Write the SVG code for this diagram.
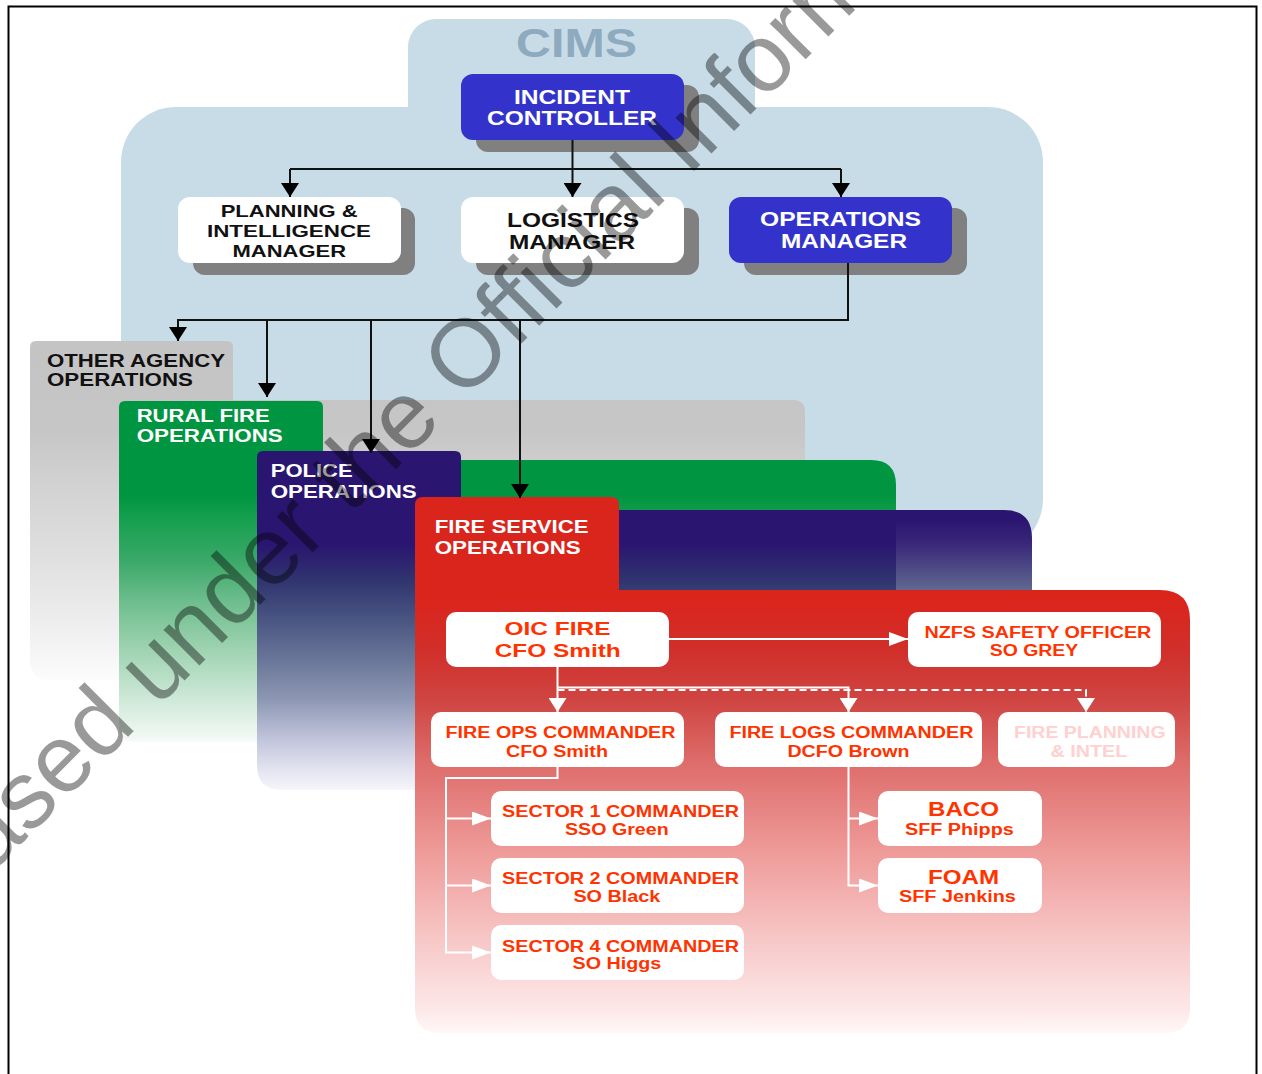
<svg xmlns="http://www.w3.org/2000/svg" width="1262" height="1074" viewBox="0 0 1262 1074">
  <defs>
    <style>
      .t { font-family: "Liberation Sans", Arial, sans-serif; font-weight: bold; }
      .wht { fill: #ffffff; }
      .blk { fill: #111111; }
      .red { fill: #ff3300; }
      .pale { fill: #ffd0d0; }
      .shadow { fill: #808080; }
      .wbox { fill: #ffffff; }
      .bbox { fill: #3333cc; }
      .cims { fill: #c8dce8; }
      .conn { stroke: #111111; stroke-width: 2; fill: none; }
      .wconn { stroke: #ffffff; stroke-width: 2; fill: none; }
      .dash { stroke-dasharray: 7 4; }
      .wm { font-family: "Liberation Sans", Arial, sans-serif; font-size: 96px; fill: #000000; fill-opacity: 0.4; }
    </style>
    <marker id="arrow" viewBox="0 0 14 18" refX="14" refY="9" markerWidth="14" markerHeight="18" markerUnits="userSpaceOnUse" orient="auto">
      <path d="M0,0 L14,9 L0,18 Z" fill="#000000"/>
    </marker>
    <marker id="warrow-v" viewBox="0 0 14 18" refX="14" refY="9" markerWidth="14" markerHeight="18" markerUnits="userSpaceOnUse" orient="auto">
      <path d="M0,0 L14,9 L0,18 Z" fill="#ffffff"/>
    </marker>
    <marker id="warrow-h" viewBox="0 0 19 14" refX="19" refY="7" markerWidth="19" markerHeight="14" markerUnits="userSpaceOnUse" orient="auto">
      <path d="M0,0 L19,7 L0,14 Z" fill="#ffffff"/>
    </marker>
    <linearGradient id="g-gray" gradientUnits="userSpaceOnUse" x1="0" y1="341" x2="0" y2="680">
      <stop offset="0" stop-color="#c4c4c4"/>
      <stop offset="0.263" stop-color="#c6c6c6"/>
      <stop offset="0.469" stop-color="#d5d5d5"/>
      <stop offset="0.646" stop-color="#e0e0e0"/>
      <stop offset="0.823" stop-color="#ededed"/>
      <stop offset="1" stop-color="#fcfcfc"/>
    </linearGradient>
    <linearGradient id="g-green" gradientUnits="userSpaceOnUse" x1="0" y1="401" x2="0" y2="742">
      <stop offset="0" stop-color="#009540"/>
      <stop offset="0.276" stop-color="#009540"/>
      <stop offset="0.35" stop-color="#17a050"/>
      <stop offset="0.466" stop-color="#3aa868"/>
      <stop offset="0.584" stop-color="#6cbd8c"/>
      <stop offset="0.73" stop-color="#9fd3b1"/>
      <stop offset="0.877" stop-color="#cfe9d9"/>
      <stop offset="1" stop-color="#f6fbf7"/>
    </linearGradient>
    <linearGradient id="g-purple" gradientUnits="userSpaceOnUse" x1="0" y1="451" x2="0" y2="790">
      <stop offset="0" stop-color="#2a1670"/>
      <stop offset="0.277" stop-color="#2a1670"/>
      <stop offset="0.381" stop-color="#30346f"/>
      <stop offset="0.499" stop-color="#4a5682"/>
      <stop offset="0.617" stop-color="#6a7698"/>
      <stop offset="0.735" stop-color="#8e98b4"/>
      <stop offset="0.853" stop-color="#c2c6dc"/>
      <stop offset="0.941" stop-color="#e4e4f0"/>
      <stop offset="1" stop-color="#f6f5fb"/>
    </linearGradient>
    <linearGradient id="g-sheen" x1="0" y1="0" x2="0" y2="1">
      <stop offset="0" stop-color="#ffffff" stop-opacity="0"/>
      <stop offset="1" stop-color="#ffffff" stop-opacity="0.22"/>
    </linearGradient>
    <linearGradient id="g-red" gradientUnits="userSpaceOnUse" x1="0" y1="497" x2="0" y2="1033">
      <stop offset="0" stop-color="#da251d"/>
      <stop offset="0.192" stop-color="#da251d"/>
      <stop offset="0.286" stop-color="#d12f2a"/>
      <stop offset="0.379" stop-color="#cf4542"/>
      <stop offset="0.49" stop-color="#dd6b69"/>
      <stop offset="0.659" stop-color="#ee9a98"/>
      <stop offset="0.845" stop-color="#f8cccc"/>
      <stop offset="0.957" stop-color="#fde8e8"/>
      <stop offset="1" stop-color="#fff7f7"/>
    </linearGradient>
  </defs>

  <rect x="0" y="0" width="1262" height="1074" fill="#ffffff"/>

  <!-- CIMS backdrop -->
  <g id="cims-panel">
    <rect class="cims" x="408" y="19" width="347" height="140" rx="28"/>
    <rect class="cims" x="121" y="107" width="922" height="447" rx="55"/>
    <text class="t" x="516" y="57" font-size="40" fill="#8eaabf" textLength="121" lengthAdjust="spacingAndGlyphs">CIMS</text>
  </g>

  <!-- agency folders, back to front -->
  <g id="other-agency-operations">
    <path d="M30,347 Q30,341 36,341 H227 Q233,341 233,347 V400 H793 Q805,400 805,412 V680 H50 Q30,680 30,660 Z" fill="url(#g-gray)"/>
    <text class="t blk" x="47" y="366.5" font-size="18" textLength="178" lengthAdjust="spacingAndGlyphs">OTHER AGENCY</text>
    <text class="t blk" x="47" y="386" font-size="18" textLength="146" lengthAdjust="spacingAndGlyphs">OPERATIONS</text>
  </g>
  <g id="rural-fire-operations">
    <path d="M119,407 Q119,401 125,401 H317 Q323,401 323,407 V460 H871 Q896,460 896,485 V742 H134 Q119,742 119,727 Z" fill="url(#g-green)"/>
    <text class="t wht" x="136.7" y="422.3" font-size="18" textLength="133" lengthAdjust="spacingAndGlyphs">RURAL FIRE</text>
    <text class="t wht" x="136.7" y="441.7" font-size="18" textLength="146" lengthAdjust="spacingAndGlyphs">OPERATIONS</text>
  </g>
  <g id="police-operations">
    <path d="M257,457 Q257,451 263,451 H455 Q461,451 461,457 V510 H1004 Q1032,510 1032,538 V790 H282 Q257,790 257,765 Z" fill="url(#g-purple)"/>
    <rect x="896" y="520" width="136" height="70" fill="url(#g-sheen)"/>
    <text class="t wht" x="270.7" y="477.3" font-size="18" textLength="82" lengthAdjust="spacingAndGlyphs">POLICE</text>
    <text class="t wht" x="270.7" y="497.7" font-size="18" textLength="146" lengthAdjust="spacingAndGlyphs">OPERATIONS</text>
  </g>
  <g id="fire-service-operations">
    <path d="M415,505 Q415,497 423,497 H611 Q619,497 619,505 V590 H1160 Q1190,590 1190,620 V1008 Q1190,1033 1165,1033 H440 Q415,1033 415,1008 Z" fill="url(#g-red)"/>
    <text class="t wht" x="434.7" y="533.3" font-size="18" textLength="154" lengthAdjust="spacingAndGlyphs">FIRE SERVICE</text>
    <text class="t wht" x="434.7" y="554" font-size="18" textLength="146" lengthAdjust="spacingAndGlyphs">OPERATIONS</text>
  </g>

  <!-- CIMS function boxes -->
  <g id="incident-controller">
    <rect class="shadow" x="476" y="85" width="223" height="67" rx="12"/>
    <rect class="bbox" x="461" y="74" width="223" height="66" rx="12"/>
    <text class="t wht" x="514" y="103.5" font-size="19.5" textLength="116" lengthAdjust="spacingAndGlyphs">INCIDENT</text>
    <text class="t wht" x="487" y="125" font-size="19.5" textLength="170" lengthAdjust="spacingAndGlyphs">CONTROLLER</text>
  </g>
  <g id="planning-intelligence-manager">
    <rect class="shadow" x="193" y="208" width="222" height="67" rx="12"/>
    <rect class="wbox" x="178" y="197" width="223" height="66" rx="12"/>
    <text class="t blk" x="220.7" y="217" font-size="16.5" textLength="137" lengthAdjust="spacingAndGlyphs">PLANNING &amp;</text>
    <text class="t blk" x="207" y="237" font-size="16.5" textLength="164" lengthAdjust="spacingAndGlyphs">INTELLIGENCE</text>
    <text class="t blk" x="232.5" y="257" font-size="16.5" textLength="113.5" lengthAdjust="spacingAndGlyphs">MANAGER</text>
  </g>
  <g id="logistics-manager">
    <rect class="shadow" x="476" y="208" width="223" height="67" rx="12"/>
    <rect class="wbox" x="461" y="197" width="223" height="66" rx="12"/>
    <text class="t blk" x="507" y="226.5" font-size="19.5" textLength="132" lengthAdjust="spacingAndGlyphs">LOGISTICS</text>
    <text class="t blk" x="509" y="249" font-size="19.5" textLength="126" lengthAdjust="spacingAndGlyphs">MANAGER</text>
  </g>
  <g id="operations-manager">
    <rect class="shadow" x="744" y="208" width="223" height="67" rx="12"/>
    <rect class="bbox" x="729" y="197" width="223" height="66" rx="12"/>
    <text class="t wht" x="760" y="226" font-size="19.5" textLength="161" lengthAdjust="spacingAndGlyphs">OPERATIONS</text>
    <text class="t wht" x="781" y="248" font-size="19.5" textLength="126" lengthAdjust="spacingAndGlyphs">MANAGER</text>
  </g>

  <!-- connectors -->
  <g id="connectors">
    <path class="conn" d="M572.5,140 V197" marker-end="url(#arrow)"/>
    <path class="conn" d="M290,169 H841"/>
    <path class="conn" d="M290,169 V197" marker-end="url(#arrow)"/>
    <path class="conn" d="M841,169 V197" marker-end="url(#arrow)"/>
    <path class="conn" d="M848,263 V320 H178 V341" marker-end="url(#arrow)"/>
    <path class="conn" d="M267,320 V397" marker-end="url(#arrow)"/>
    <path class="conn" d="M371,320 V453" marker-end="url(#arrow)"/>
    <path class="conn" d="M520,320 V498" marker-end="url(#arrow)"/>

    <path class="wconn" d="M669,639 H908" marker-end="url(#warrow-h)"/>
    <path class="wconn" d="M557.5,667 V712" marker-end="url(#warrow-v)"/>
    <path class="wconn" d="M557.5,687.5 H848.5 V712" marker-end="url(#warrow-v)"/>
    <path class="wconn dash" d="M557.5,690 H1086 V712" marker-end="url(#warrow-v)"/>
    <path class="wconn" d="M557.5,767 V778 H446 V952.5 H491" marker-end="url(#warrow-h)"/>
    <path class="wconn" d="M446,818.5 H491" marker-end="url(#warrow-h)"/>
    <path class="wconn" d="M446,885.5 H491" marker-end="url(#warrow-h)"/>
    <path class="wconn" d="M848.5,767 V885.5 H878" marker-end="url(#warrow-h)"/>
    <path class="wconn" d="M848.5,818.5 H878" marker-end="url(#warrow-h)"/>
  </g>

  <!-- fire service structure -->
  <g id="oic-fire">
    <rect class="wbox" x="446" y="612" width="223" height="55" rx="10"/>
    <text class="t red" x="504.5" y="635" font-size="19" textLength="106" lengthAdjust="spacingAndGlyphs">OIC FIRE</text>
    <text class="t red" x="494.7" y="656.7" font-size="19" textLength="126" lengthAdjust="spacingAndGlyphs">CFO Smith</text>
  </g>
  <g id="nzfs-safety-officer">
    <rect class="wbox" x="908" y="612" width="253" height="55" rx="10"/>
    <text class="t red" x="924.4" y="637.7" font-size="16" textLength="227" lengthAdjust="spacingAndGlyphs">NZFS SAFETY OFFICER</text>
    <text class="t red" x="989.7" y="656" font-size="16" textLength="88.5" lengthAdjust="spacingAndGlyphs">SO GREY</text>
  </g>
  <g id="fire-ops-commander">
    <rect class="wbox" x="431" y="712" width="253" height="55" rx="10"/>
    <text class="t red" x="445.5" y="737.7" font-size="16" textLength="230" lengthAdjust="spacingAndGlyphs">FIRE OPS COMMANDER</text>
    <text class="t red" x="506" y="756.7" font-size="16" textLength="102" lengthAdjust="spacingAndGlyphs">CFO Smith</text>
  </g>
  <g id="fire-logs-commander">
    <rect class="wbox" x="715" y="712" width="267" height="55" rx="10"/>
    <text class="t red" x="729.4" y="737.7" font-size="16" textLength="244" lengthAdjust="spacingAndGlyphs">FIRE LOGS COMMANDER</text>
    <text class="t red" x="787.4" y="756.7" font-size="16" textLength="122" lengthAdjust="spacingAndGlyphs">DCFO Brown</text>
  </g>
  <g id="fire-planning-intel">
    <rect class="wbox" x="998" y="712" width="177" height="55" rx="10"/>
    <text class="t pale" x="1014" y="737.7" font-size="16" textLength="151.6" lengthAdjust="spacingAndGlyphs">FIRE PLANNING</text>
    <text class="t pale" x="1050.6" y="756.7" font-size="16" textLength="76.7" lengthAdjust="spacingAndGlyphs">&amp; INTEL</text>
  </g>
  <g id="sector-1-commander">
    <rect class="wbox" x="491" y="791" width="253" height="55" rx="10"/>
    <text class="t red" x="502" y="816.7" font-size="16.5" textLength="237" lengthAdjust="spacingAndGlyphs">SECTOR 1 COMMANDER</text>
    <text class="t red" x="565" y="835" font-size="16" textLength="103.7" lengthAdjust="spacingAndGlyphs">SSO Green</text>
  </g>
  <g id="sector-2-commander">
    <rect class="wbox" x="491" y="858" width="253" height="55" rx="10"/>
    <text class="t red" x="502" y="884.3" font-size="16.5" textLength="237" lengthAdjust="spacingAndGlyphs">SECTOR 2 COMMANDER</text>
    <text class="t red" x="573.4" y="902" font-size="16" textLength="87" lengthAdjust="spacingAndGlyphs">SO Black</text>
  </g>
  <g id="sector-4-commander">
    <rect class="wbox" x="491" y="925" width="253" height="55" rx="10"/>
    <text class="t red" x="502" y="951.7" font-size="16.5" textLength="237" lengthAdjust="spacingAndGlyphs">SECTOR 4 COMMANDER</text>
    <text class="t red" x="572.6" y="969" font-size="16" textLength="88.7" lengthAdjust="spacingAndGlyphs">SO Higgs</text>
  </g>
  <g id="baco">
    <rect class="wbox" x="878" y="791" width="164" height="55" rx="10"/>
    <text class="t red" x="928" y="815.7" font-size="20" textLength="71" lengthAdjust="spacingAndGlyphs">BACO</text>
    <text class="t red" x="905" y="835" font-size="16" textLength="108.7" lengthAdjust="spacingAndGlyphs">SFF Phipps</text>
  </g>
  <g id="foam">
    <rect class="wbox" x="878" y="858" width="164" height="55" rx="10"/>
    <text class="t red" x="928" y="884.3" font-size="20" textLength="71" lengthAdjust="spacingAndGlyphs">FOAM</text>
    <text class="t red" x="898.9" y="902" font-size="16" textLength="117" lengthAdjust="spacingAndGlyphs">SFF Jenkins</text>
  </g>

  <!-- diagonal release stamp -->
  <text class="wm" transform="translate(-9,874) rotate(-45)">ased under the Official Inform</text>

  <!-- page frame -->
  <rect x="8.5" y="6.5" width="1248" height="1090" fill="none" stroke="#000000" stroke-width="2"/>
</svg>
